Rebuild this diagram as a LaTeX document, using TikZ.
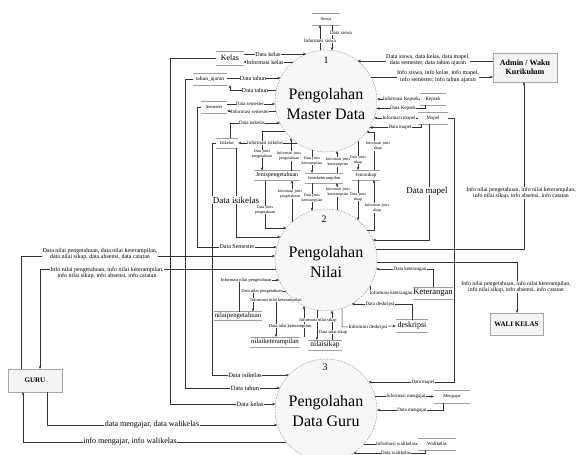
\documentclass[tikz,border=0pt]{standalone}
\usepackage{fontspec}
\setmainfont{Liberation Serif}
\usetikzlibrary{arrows.meta}
\newcommand\fs[2]{\fontsize{#1}{#2}\selectfont}
\newcommand\oaL[1]{326-sqrt(2601-((#1)-101)*((#1)-101))}
\newcommand\oaR[1]{326+sqrt(2601-((#1)-101)*((#1)-101))}
\newcommand\oaT[1]{101-sqrt(2601-((#1)-326)*((#1)-326))}
\newcommand\oaB[1]{101+sqrt(2601-((#1)-326)*((#1)-326))}
\newcommand\obL[1]{326-sqrt(2601-((#1)-260)*((#1)-260))}
\newcommand\obR[1]{326+sqrt(2601-((#1)-260)*((#1)-260))}
\newcommand\obT[1]{260-sqrt(2601-((#1)-326)*((#1)-326))}
\newcommand\obB[1]{260+sqrt(2601-((#1)-326)*((#1)-326))}
\newcommand\ocL[1]{326-sqrt(2601-((#1)-410)*((#1)-410))}
\newcommand\ocR[1]{326+sqrt(2601-((#1)-410)*((#1)-410))}
\begin{document}
\begin{tikzpicture}[x=1pt,y=-1pt,
  proc/.style={circle,draw=gray!70,dash pattern=on 2pt off 1pt,fill=gray!6,minimum size=102pt,inner sep=0pt,line width=0.5pt},
  ptxt/.style={align=center,font=\fs{16}{19.5},inner sep=0pt},
  pnum/.style={font=\fs{10}{11},inner sep=0pt},
  ent/.style={draw=gray!70,fill=gray!8,align=center,inner sep=1pt,line width=0.6pt},
  storeln/.style={draw=gray!75,line width=0.6pt},
  store/.style={inner sep=0pt,append after command={(\tikzlastnode.north west) edge[storeln] (\tikzlastnode.north east) (\tikzlastnode.south west) edge[storeln] (\tikzlastnode.south east)}},
  fl/.style={draw=black!80,line width=0.5pt,-{Stealth[length=3.2pt,width=2.6pt]}},
  lb/.style={fill=white,inner sep=0.4pt,align=center,font=\fs{6}{6.8}},
  lbs/.style={lb,font=\fs{4}{4.6}},
  lbn/.style={lb,font=\fs{5}{5.8}},
  lbm/.style={lb,font=\fs{6.5}{7.5}},
  lbg/.style={lb,font=\fs{8}{9}},
  lbb/.style={lb,font=\fs{9}{10}},
]
\useasboundingbox (0,0) rectangle (579,455);
\clip (0,0) rectangle (579,455);

% processes
\node[proc] (c1) at (326,101) {};
\node[proc] (c2) at (326,260) {};
\node[proc] (c3) at (326,410) {};
\node[pnum] (n1) at (326,60) {1};
\node[pnum] (n2) at (324,219) {2};
\node[pnum] (n3) at (325,367) {3};
\node[ptxt] (t1) at (326,104) {Pengolahan\\Master Data};
\node[ptxt] (t2) at (326,262) {Pengolahan\\Nilai};
\node[ptxt] (t3) at (326,411) {Pengolahan\\Data Guru};

% entities
\node[ent,minimum width=64pt,minimum height=29pt,font=\bfseries\fs{8}{9.5}] (admin) at (525,67.5) {Admin / Waku\\Kurikulum};
\node[ent,minimum width=53pt,minimum height=22pt,font=\bfseries\fs{7}{8}] (wali) at (516.5,324) {WALI KELAS};
\node[ent,minimum width=54pt,minimum height=23pt,font=\bfseries\fs{7}{8}] (guru) at (35,380.5) {GURU};

% stores
\node[store,minimum width=28pt,minimum height=12pt,font=\fs{4.5}{5}] (siswa) at (326,19) {Siswa};
\node[store,minimum width=27pt,minimum height=14pt,font=\fs{8}{9}] (kelas) at (230,58) {Kelas};
\node[store,minimum width=33pt,minimum height=12pt,font=\fs{5.5}{6}] (tahun) at (210,79) {tahun\_ajaran};
\node[store,minimum width=26pt,minimum height=12pt,font=\fs{4.5}{5}] (sem) at (214,107) {Semester};
\node[store,minimum width=22pt,minimum height=10pt,font=\fs{4.5}{5}] (isi) at (227,143) {Isikelas};
\node[store,minimum width=46pt,minimum height=10pt,font=\fs{6}{6.5}] (jp) at (277,175.5) {Jenispengetahuan};
\node[store,minimum width=38pt,minimum height=10pt,font=\fs{4.5}{5}] (jk) at (324,178) {Jenisketerampilan};
\node[store,minimum width=28pt,minimum height=10pt,font=\fs{5}{5.5}] (js) at (366,175) {Jenissikap};
\node[store,minimum width=26pt,minimum height=12pt,font=\fs{5}{5.5}] (kep) at (433,99) {Kepsek};
\node[store,minimum width=30pt,minimum height=12pt,font=\fs{5}{5.5}] (mapel) at (433,118) {Mapel};
\node[store,minimum width=40pt,minimum height=12pt,font=\fs{8.5}{9}] (ket) at (433,293) {Keterangan};
\node[store,minimum width=32pt,minimum height=13pt,font=\fs{8}{9}] (desk) at (412,326) {deskripsi};
\node[store,minimum width=48pt,minimum height=9pt,font=\fs{6.8}{7.5}] (np) at (238,316) {nilaipengetahuan};
\node[store,minimum width=50pt,minimum height=10pt,font=\fs{6.8}{7.5}] (nk) at (275,342) {nilaiketerampilan};
\node[store,minimum width=34pt,minimum height=10pt,font=\fs{7.5}{8}] (ns) at (325,345) {nilaisikap};
\node[store,minimum width=36pt,minimum height=13pt,font=\fs{4.5}{5}] (meng) at (452,396.5) {Mengajar};
\node[store,minimum width=38pt,minimum height=12pt,font=\fs{5}{5.5}] (wk) at (437,444) {Walikelas};

% ---- flows process 1
\draw[fl] (320,{\oaT{320}}) -- (320,25);
\draw[fl] (332,25) -- (332,{\oaT{332}});
\draw[fl] (243.5,54) -- ({\oaL{54}},54);
\draw[fl] ({\oaL{62}},62) -- (243.5,62);
\draw[fl] (kelas.west) -- (170,58) -- (170,404) -- ({\ocL{404}},404);
\draw[fl] (226.5,78) -- ({\oaL{78}},78);
\draw[fl] ({\oaL{90}},90) -- (230,90) -- (230,85);
\draw[fl] (tahun.west) -- (185,79) -- (185,388) -- ({\ocL{388}},388);
\draw[fl] (227,104) -- ({\oaL{104}},104);
\draw[fl] ({\oaL{111}},111) -- (227,111);
\draw[fl] (sem.west) -- (197,107) -- (197,247) -- ({\obL{247}},247);
\draw[fl] (230,138) -- (230,123) -- ({\oaL{123}},123);
\draw[fl] ({\oaL{143}},143) -- (isi.east);
\draw[fl] (isi.west) -- (212,143) -- (212,375) -- ({\ocL{375}},375);
\draw[fl] (236,148) -- (236,237) -- ({\obL{237}},237);
% jenis
\draw[fl] ({\oaL{131}},131) -- (262,131) -- (262,170.5);
\draw[fl] (291,170.5) -- (291,{\oaB{291}});
\draw[fl] (265,180.5) -- (265,228) -- ({\obL{228}},228);
\draw[fl] (292,{\obT{292}}) -- (292,180.5);
\draw[fl] (312,{\oaB{312}}) -- (312,173);
\draw[fl] (337,173) -- (337,{\oaB{337}});
\draw[fl] (312,183) -- (312,{\obT{312}});
\draw[fl] (337,{\obT{337}}) -- (337,183);
\draw[fl] (358,{\oaB{358}}) -- (358,170);
\draw[fl] (374,170) -- (374,132) -- ({\oaR{132}},132);
\draw[fl] (358,180) -- (358,{\obT{358}});
\draw[fl] ({\obR{230}},230) -- (374,230) -- (374,180);
% kepsek, mapel, admin
\draw[fl] (kep.west) -- ({\oaR{99}},99);
\draw[fl] (425,105) -- (425,108.5) -- ({\oaR{108.5}},108.5);
\draw[fl] (mapel.west) -- ({\oaR{118}},118);
\draw[fl] (421,124) -- (421,127.5) -- ({\oaR{127.5}},127.5);
\draw[fl] (mapel.east) -- (454,118) -- (454,382) -- ({\ocR{382}},382);
\draw[fl] (429,124) -- (429,240) -- ({\obR{240}},240);
\draw[fl] (493,61) -- ({\oaR{61}},61);
\draw[fl] ({\oaR{77}},77) -- (493,77);
% ---- process 2 right
\draw[fl] ({\obR{249}},249) -- (524,249) -- (524,82);
\draw[fl] ({\obR{262}},262) -- (517,262) -- (517,313);
\draw[fl] (433,287) -- (433,269) -- ({\obR{269}},269);
\draw[fl] (370,{\obB{370}}) -- (370,293) -- (ket.west);
\draw[fl] (412,319.5) -- (412,304) -- ({\obR{304}},304);
\draw[fl] (342,{\obB{342}}) -- (342,327) -- (desk.west);
% ---- process 2 bottom-left
\draw[fl] (239,311.5) -- (239,280) -- ({\obL{280}},280);
\draw[fl] ({\obL{291}},291) -- (253,291) -- (253,311.5);
\draw[fl] ({\obL{300}},300) -- (276,300) -- (276,337);
\draw[fl] (304,337) -- (304,{\obB{304}});
\draw[fl] (317,{\obB{317}}) -- (317,340);
\draw[fl] (332,340) -- (332,{\obB{332}});
% ---- guru
\draw[fl] (21,369) -- (21,256) -- ({\obL{256}},256);
\draw[fl] ({\obL{269}},269) -- (40,269) -- (40,369);
\draw[fl] (47,392) -- (47,425) -- ({\ocL{425}},425);
\draw[fl] ({\ocL{442}},442) -- (23,442) -- (23,392);
% ---- process 3 right
\draw[fl] ({\ocR{396.5}},396.5) -- (meng.west);
\draw[fl] (443,403) -- (443,410) -- ({\ocR{410}},410);
\draw[fl] ({\ocR{444}},444) -- (wk.west);
\draw[fl] (425,450) -- (425,453) -- ({\ocR{453}},453);

% ---- labels
\node[lbn] (ls1) at (341,33) {Data siswa};
\node[lbn] (ls2) at (320,41) {Informasi siswa};
\node[lb] (lk1) at (268,54) {Data kelas};
\node[lb] (lk2) at (265,62) {Informasi kelas};
\node[lbm] (lk3) at (250,404) {Data kelas};
\node[lb] (lt1) at (253,78) {Data tahun};
\node[lb] (lt2) at (255,90) {Data tahun};
\node[lbm] (lt3) at (245,388) {Data tahun};
\node[lbn] (lsm1) at (250,104) {Data semester};
\node[lbn] (lsm2) at (250,111.5) {Informasi semester};
\node[lb] (lsm3) at (237,247) {Data Semester};
\node[lbn] (li1) at (252,123) {Data isikelas};
\node[lbn] (li2) at (265,143) {Informasi isikelas};
\node[lbm] (li3) at (245,375) {Data isikelas};
\node[lbb] (li4) at (236,200) {Data isikelas};
\node[lbs] (lj1) at (262,154) {Data jenis\\pengetahuan};
\node[lbs] (lj2) at (289,156) {Informasi jenis\\pengetahuan};
\node[lbs] (lj3) at (265,210) {Data jenis\\pengetahuan};
\node[lbs] (lj4) at (290,194) {Informasi jenis\\pengetahuan};
\node[lbs] (lj5) at (312,161) {Data jenis\\keterampilan};
\node[lbs] (lj6) at (338,162) {Informasi jenis\\keterampilan};
\node[lbs] (lj7) at (312,198) {Data jenis\\keterampilan};
\node[lbs] (lj8) at (338,192) {Informasi jenis\\keterampilan};
\node[lbs] (lj9) at (358,160) {Data jenis\\sikap};
\node[lbs] (lj10) at (378,146) {Informasi jenis\\sikap};
\node[lbs] (lj11) at (358,197) {Data jenis\\sikap};
\node[lbs] (lj12) at (377,208) {Informasi jenis\\sikap};
\node[lbn] (lkp1) at (401,99) {Informasi Kepsek};
\node[lbn] (lkp2) at (403,108.5) {Data Kepsek};
\node[lbn] (lm1) at (399,118) {Informasi mapel};
\node[lbn] (lm2) at (400,127.5) {Data mapel};
\node[lbn] (lm3) at (423,382) {Data mapel};
\node[lbb] (lm4) at (427,191) {Data mapel};
\node[lb] (la1) at (428,60) {Data siswa, data kelas, data mapel,\\data semester, data tahun ajaran};
\node[lb] (la2) at (438,76.5) {Info siswa, info kelas, info mapel,\\info semester, info tahun ajaran};
\node[lb,font=\fs{5.8}{6.8}] (la3) at (521,193) {Info nilai pengetahuan, info nilai keterampilan,\\info nilai sikap, info absensi, info catatan};
\node[lb,font=\fs{5.8}{6.8}] (lw1) at (516,287) {Info nilai pengetahuan, info nilai keterampilan,\\info nilai sikap, info absensi, info catatan};
\node[lbn] (lke1) at (410,269) {Data keterangan};
\node[lbn] (lke2) at (391,293) {Informasi keterangan};
\node[lbn] (ld1) at (380,304) {Data deskripsi};
\node[lbn] (ld2) at (368,327) {Informasi deskripsi};
\node[lb,font=\fs{4.5}{5}] (ln1) at (246,280) {Informasi nilai pengetahuan};
\node[lb,font=\fs{4.5}{5}] (ln2) at (262,291) {Data nilai pengetahuan};
\node[lb,font=\fs{4.5}{5}] (ln3) at (276,300) {Informasi nilai keterampilan};
\node[lb,font=\fs{4.5}{5}] (ln4) at (290,326) {Data nilai keterampilan};
\node[lb,font=\fs{4.5}{5}] (ln5) at (318,320) {Informasi nilai sikap};
\node[lb,font=\fs{4.5}{5}] (ln6) at (333,332) {Data nilai sikap};
\node[lb] (lg1) at (100,254) {Data nilai pengetahuan, data nilai keterampilan,\\data nilai sikap, data absensi, data catatan};
\node[lb] (lg2) at (107,273) {Info nilai pengetahuan, info nilai keterampilan,\\info nilai sikap, info absensi, info catatan};
\node[lbg] (lg3) at (152,425) {data mengajar, data walikelas};
\node[lbg] (lg4) at (130,442) {info mengajar, info walikelas};
\node[lbn] (lmg1) at (406,396.5) {Informasi mengajar};
\node[lbn] (lmg2) at (412,410) {Data mengajar};
\node[lbn] (lwk1) at (396,444) {Informasi walikelas};
\node[lbn] (lwk2) at (396,453) {Data walikelas};
\end{tikzpicture}
\end{document}
